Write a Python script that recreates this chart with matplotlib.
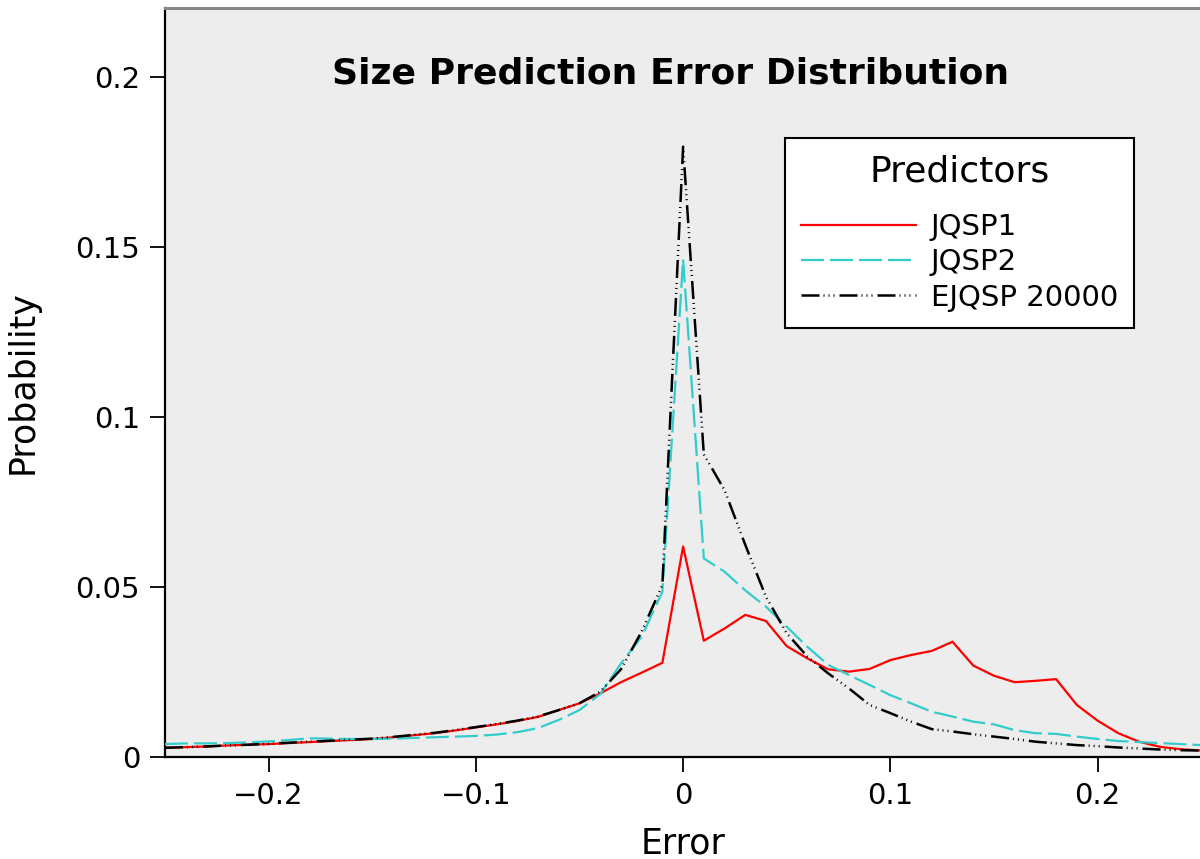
import numpy as np
import matplotlib
matplotlib.use("Agg")
import matplotlib.pyplot as plt

error = [round(-0.25 + 0.01 * i, 2) for i in range(51)]

jqsp1 = [0.0027, 0.0029, 0.0031, 0.0034, 0.0036, 0.0038, 0.0041, 0.0044, 0.0047, 0.0050,
         0.0053, 0.0058, 0.0064, 0.0070, 0.0078, 0.0087, 0.0096, 0.0106, 0.0118, 0.0138,
         0.0158, 0.0187, 0.0220, 0.0248, 0.0277, 0.0619, 0.0342, 0.0378, 0.0418, 0.0400,
         0.0326, 0.0290, 0.0258, 0.0251, 0.0259, 0.0285, 0.0300, 0.0312, 0.0339, 0.0269,
         0.0239, 0.0220, 0.0224, 0.0229, 0.0153, 0.0107, 0.0070, 0.0045, 0.0030, 0.0023,
         0.0019]

jqsp2 = [0.0038, 0.0040, 0.0040, 0.0041, 0.0043, 0.0046, 0.0050, 0.0055, 0.0054, 0.0053,
         0.0053, 0.0054, 0.0056, 0.0058, 0.0060, 0.0062, 0.0066, 0.0073, 0.0085, 0.0109,
         0.0138, 0.0185, 0.0275, 0.0354, 0.0486, 0.1464, 0.0584, 0.0545, 0.0490, 0.0442,
         0.0383, 0.0324, 0.0271, 0.0241, 0.0212, 0.0182, 0.0158, 0.0133, 0.0119, 0.0104,
         0.0096, 0.0079, 0.0070, 0.0068, 0.0060, 0.0053, 0.0047, 0.0044, 0.0041, 0.0038,
         0.0035]

ejqsp = [0.0027, 0.0029, 0.0031, 0.0034, 0.0036, 0.0039, 0.0042, 0.0045, 0.0048, 0.0051,
         0.0054, 0.0059, 0.0065, 0.0071, 0.0079, 0.0088, 0.0097, 0.0107, 0.0119, 0.0138,
         0.0158, 0.0192, 0.0258, 0.0369, 0.0506, 0.1795, 0.0890, 0.0785, 0.0624, 0.0471,
         0.0364, 0.0295, 0.0246, 0.0202, 0.0153, 0.0129, 0.0104, 0.0082, 0.0075, 0.0067,
         0.0060, 0.0053, 0.0045, 0.0040, 0.0035, 0.0032, 0.0028, 0.0025, 0.0022, 0.0020,
         0.0019]

xticks = [-0.2, -0.1, 0, 0.1, 0.2]
xticklabels = ["\u22120.2", "\u22120.1", "0", "0.1", "0.2"]
yticks = [0, 0.05, 0.1, 0.15, 0.2]
yticklabels = ["0", "0.05", "0.1", "0.15", "0.2"]

plt.rcParams['font.family'] = ['DejaVu Sans']
plt.rcParams['lines.scale_dashes'] = False

px = 0.72  # points per pixel at dpi 100

fig = plt.figure(figsize=(12, 8.59), dpi=100)
ax = fig.add_axes([165 / 1200, 1 - 757 / 859, 1 - 165 / 1200 + 0.001, (757 - 8) / 859])
ax.set_facecolor('#ededed')

ax.plot(error, jqsp1, color='#ff0000', lw=1.6, label='JQSP1', zorder=3)
ax.plot(error, jqsp2, color='#33cccc', lw=1.6, dashes=(23 * px, 6 * px), label='JQSP2', zorder=3)
ax.plot(error, ejqsp, color='black', lw=1.8,
        dashes=(18 * px, 4 * px, 1 * px, 4 * px, 1 * px, 4 * px, 1 * px, 5 * px),
        label='EJQSP 20000', zorder=4)

ax.set_xlim(-0.25, 0.25)
ax.set_ylim(0, (757 - 8) / 3400)
ax.set_xticks(xticks)
ax.set_xticklabels(xticklabels)
ax.set_yticks(yticks)
ax.set_yticklabels(yticklabels)
ax.tick_params(axis='both', direction='out', length=11, width=1.3, pad=7, labelsize=21)

for s in ['left', 'bottom']:
    ax.spines[s].set_color('black')
    ax.spines[s].set_linewidth(1.6)
ax.spines['top'].set_color('#888888')
ax.spines['top'].set_linewidth(2.2)
ax.spines['right'].set_visible(False)

ax.set_xlabel('Error', fontsize=25, labelpad=12)
ax.set_ylabel('Probability', fontsize=25, labelpad=26)

ax.text(0.488, 0.913, 'Size Prediction Error Distribution', transform=ax.transAxes,
        ha='center', va='center', fontsize=26, fontweight='bold')

leg = ax.legend(title='Predictors', loc='upper left', bbox_to_anchor=((784 - 165) / 1035, (757 - 138) / 749),
                fontsize=21, title_fontsize=26, frameon=True, fancybox=False,
                handlelength=3.95, handletextpad=0.5, labelspacing=0.25, borderpad=0.55,
                framealpha=1, edgecolor='black', borderaxespad=0)
leg.get_frame().set_linewidth(1.5)
leg._legend_box.sep = 18

fig.savefig('out.png', dpi=100)
